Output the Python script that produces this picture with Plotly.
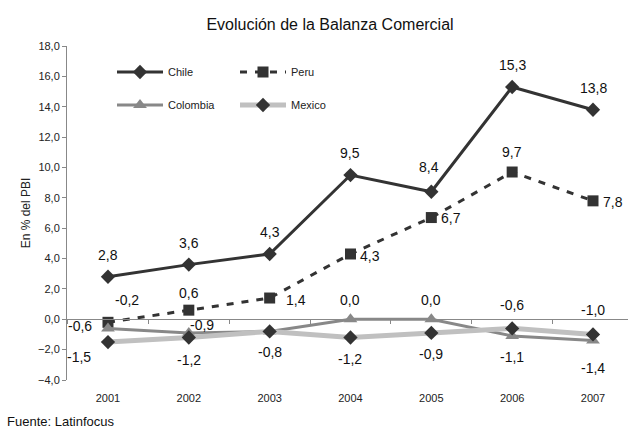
import plotly.graph_objs as go

years = ["2001", "2002", "2003", "2004", "2005", "2006", "2007"]

chile = [2.8, 3.6, 4.3, 9.5, 8.4, 15.3, 13.8]
peru = [-0.2, 0.6, 1.4, 4.3, 6.7, 9.7, 7.8]
colombia = [-0.6, -0.9, -0.8, 0.0, 0.0, -1.1, -1.4]
mexico = [-1.5, -1.2, -0.8, -1.2, -0.9, -0.6, -1.0]

# label offsets (px) per point, Excel-style placement
chile_off = [(0, -22)] * 4 + [(-2, -25), (0, -22), (0, -22)]
peru_off = [(19, -22), (0, -17), (26, 2), (20, 2), (20, 0), (0, -20), (20, 1)]
colombia_off = [(-28, -2), (13, -8), None, (0, -19), (0, -19), (0, 21), (0, 27)]
mexico_off = [(-29, 15), (0, 23), (0, 21), (0, 22), (0, 21), (0, -23), (0, -24)]

FONT = "Liberation Sans, Arial, sans-serif"
x_idx = list(range(len(years)))


def fmt(v):
    return f"{v:.1f}".replace(".", ",")


fig = go.Figure()

fig.add_trace(go.Scatter(
    x=x_idx, y=chile, name="Chile", mode="lines+markers",
    line=dict(color="#333333", width=3),
    marker=dict(symbol="diamond", size=11, color="#333333"),
    legend="legend",
))
fig.add_trace(go.Scatter(
    x=x_idx, y=peru, name="Peru", mode="lines+markers",
    line=dict(color="#333333", width=3, dash="7px,8px"),
    marker=dict(symbol="square", size=11, color="#333333"),
    legend="legend",
))
fig.add_trace(go.Scatter(
    x=x_idx, y=colombia, name="Colombia", mode="lines+markers",
    line=dict(color="#888888", width=3),
    marker=dict(symbol="triangle-up", size=12, color="#888888"),
    legend="legend2",
))
fig.add_trace(go.Scatter(
    x=x_idx, y=mexico, name="Mexico", mode="lines+markers",
    line=dict(color="#c0c0c0", width=5),
    marker=dict(symbol="diamond", size=11, color="#333333"),
    legend="legend2",
))
# carrier for the year labels axis
fig.add_trace(go.Scatter(
    x=x_idx, y=[None] * len(years), xaxis="x2", showlegend=False,
    hoverinfo="skip",
))

annotations = []
for values, offs in [(chile, chile_off), (peru, peru_off),
                     (colombia, colombia_off), (mexico, mexico_off)]:
    for i, (v, off) in enumerate(zip(values, offs)):
        if off is None:
            continue
        annotations.append(dict(
            x=i, y=v, xref="x", yref="y", text=fmt(v), showarrow=False,
            xshift=off[0], yshift=-off[1],
            font=dict(family=FONT, size=14, color="#111111"),
        ))

annotations.append(dict(
    text="Fuente: Latinfocus", xref="paper", yref="paper",
    x=-62 / 561, y=-41 / 334, xanchor="left", yanchor="middle",
    showarrow=False, font=dict(family=FONT, size=13, color="#111111"),
))

fig.update_layout(
    width=628,
    height=429,
    template="simple_white",
    plot_bgcolor="white",
    paper_bgcolor="white",
    separators=",.",
    margin=dict(l=67, r=0, t=46, b=49, autoexpand=False),
    font=dict(family=FONT, size=11, color="#222222"),
    title=dict(
        text="Evolución de la Balanza Comercial",
        font=dict(family=FONT, size=16, color="#111111"),
        x=330 / 628, xanchor="center", y=1 - 24 / 429, yanchor="middle",
    ),
    xaxis=dict(
        range=[-0.507, 6.433],
        anchor="free", position=4 / 22,
        showline=True, linecolor="#888888", linewidth=1,
        tickvals=[i + 0.5 for i in range(-1, len(years))],
        ticks="outside", ticklen=4, tickcolor="#888888",
        showticklabels=False, showgrid=False, zeroline=False,
    ),
    xaxis2=dict(
        range=[-0.507, 6.433], overlaying="x", anchor="y", side="bottom",
        tickvals=x_idx, ticktext=years, showline=False, ticks="",
        ticklabelstandoff=10,
        tickfont=dict(family=FONT, size=11, color="#222222"),
        showgrid=False, zeroline=False,
    ),
    yaxis=dict(
        range=[-4, 18], tickvals=list(range(-4, 19, 2)), tickformat=".1f",
        showline=True, linecolor="#888888", linewidth=1,
        ticks="outside", ticklen=4, tickcolor="#888888",
        showgrid=False, zeroline=False,
        title=dict(text="En % del PBI", standoff=4,
                   font=dict(family=FONT, size=12, color="#222222")),
        tickfont=dict(family=FONT, size=11, color="#222222"),
    ),
    legend=dict(
        orientation="h", x=(112 - 67) / 561, y=(380 - 72) / 334,
        xanchor="left", yanchor="middle", entrywidth=62,
        itemwidth=46, bgcolor="rgba(0,0,0,0)",
        font=dict(family=FONT, size=11, color="#222222"),
    ),
    legend2=dict(
        orientation="h", x=(112 - 67) / 561, y=(380 - 105) / 334,
        xanchor="left", yanchor="middle", entrywidth=62,
        itemwidth=46, bgcolor="rgba(0,0,0,0)",
        font=dict(family=FONT, size=11, color="#222222"),
    ),
    annotations=annotations,
    showlegend=True,
)

fig.write_html("out.html", config={"displayModeBar": False},
               post_script="document.body.style.margin='0';")
